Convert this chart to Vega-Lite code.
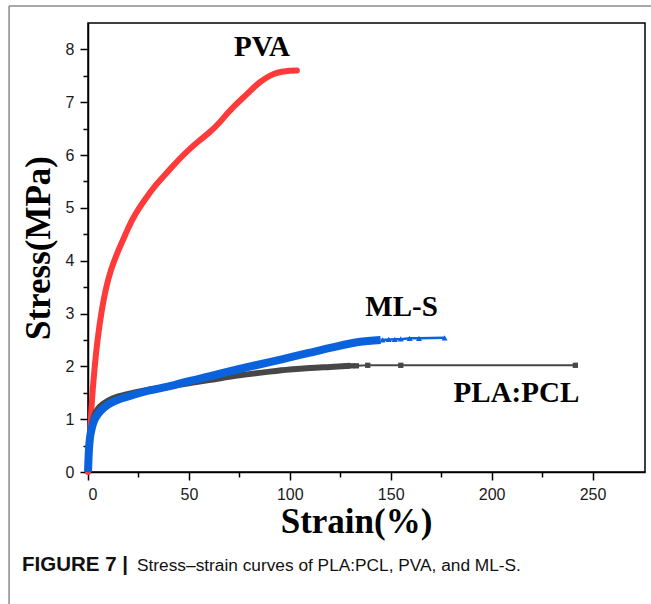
{
  "$schema": "https://vega.github.io/schema/vega-lite/v6.json",
  "width": 557,
  "height": 449,
  "autosize": {"type": "none"},
  "padding": {"left": 88, "top": 23, "right": 6, "bottom": 132},
  "background": "white",
  "datasets": {
    "curves": [
      {"series": "PVA", "strain": 0, "stress": 0},
      {"series": "PVA", "strain": 0.5, "stress": 0.35},
      {"series": "PVA", "strain": 1, "stress": 0.65},
      {"series": "PVA", "strain": 1.6, "stress": 1.2},
      {"series": "PVA", "strain": 3, "stress": 1.87},
      {"series": "PVA", "strain": 4.6, "stress": 2.5},
      {"series": "PVA", "strain": 7, "stress": 3.12},
      {"series": "PVA", "strain": 9, "stress": 3.5},
      {"series": "PVA", "strain": 11.2, "stress": 3.82},
      {"series": "PVA", "strain": 15, "stress": 4.2},
      {"series": "PVA", "strain": 18.6, "stress": 4.5},
      {"series": "PVA", "strain": 22, "stress": 4.8},
      {"series": "PVA", "strain": 28, "stress": 5.15},
      {"series": "PVA", "strain": 34, "stress": 5.46},
      {"series": "PVA", "strain": 40, "stress": 5.7},
      {"series": "PVA", "strain": 45, "stress": 5.92},
      {"series": "PVA", "strain": 50.5, "stress": 6.12},
      {"series": "PVA", "strain": 55, "stress": 6.27},
      {"series": "PVA", "strain": 60, "stress": 6.42},
      {"series": "PVA", "strain": 65, "stress": 6.6},
      {"series": "PVA", "strain": 69, "stress": 6.79},
      {"series": "PVA", "strain": 73, "stress": 6.95},
      {"series": "PVA", "strain": 77, "stress": 7.09},
      {"series": "PVA", "strain": 80, "stress": 7.2},
      {"series": "PVA", "strain": 84, "stress": 7.35},
      {"series": "PVA", "strain": 88, "stress": 7.46},
      {"series": "PVA", "strain": 92, "stress": 7.54},
      {"series": "PVA", "strain": 96, "stress": 7.58},
      {"series": "PVA", "strain": 100, "stress": 7.6},
      {"series": "PVA", "strain": 103.5, "stress": 7.6},
      {"series": "PLA:PCL", "strain": 0, "stress": 0},
      {"series": "PLA:PCL", "strain": 0.5, "stress": 0.35},
      {"series": "PLA:PCL", "strain": 1, "stress": 0.6},
      {"series": "PLA:PCL", "strain": 2, "stress": 0.9},
      {"series": "PLA:PCL", "strain": 3, "stress": 1.05},
      {"series": "PLA:PCL", "strain": 5, "stress": 1.2},
      {"series": "PLA:PCL", "strain": 7.5, "stress": 1.29},
      {"series": "PLA:PCL", "strain": 10, "stress": 1.35},
      {"series": "PLA:PCL", "strain": 15, "stress": 1.43},
      {"series": "PLA:PCL", "strain": 20, "stress": 1.48},
      {"series": "PLA:PCL", "strain": 30, "stress": 1.56},
      {"series": "PLA:PCL", "strain": 40, "stress": 1.62},
      {"series": "PLA:PCL", "strain": 50, "stress": 1.68},
      {"series": "PLA:PCL", "strain": 60, "stress": 1.74},
      {"series": "PLA:PCL", "strain": 75, "stress": 1.83},
      {"series": "PLA:PCL", "strain": 90, "stress": 1.9},
      {"series": "PLA:PCL", "strain": 100, "stress": 1.94},
      {"series": "PLA:PCL", "strain": 110, "stress": 1.97},
      {"series": "PLA:PCL", "strain": 120, "stress": 1.99},
      {"series": "PLA:PCL", "strain": 130, "stress": 2.01},
      {"series": "PLA:PCL", "strain": 133, "stress": 2.01},
      {"series": "PLA:PCL", "strain": 138.6, "stress": 2.02},
      {"series": "PLA:PCL", "strain": 155, "stress": 2.02},
      {"series": "PLA:PCL", "strain": 198, "stress": 2.02},
      {"series": "PLA:PCL", "strain": 241.5, "stress": 2.02},
      {"series": "ML-S", "strain": 0, "stress": 0},
      {"series": "ML-S", "strain": 0.5, "stress": 0.45},
      {"series": "ML-S", "strain": 1, "stress": 0.65},
      {"series": "ML-S", "strain": 2, "stress": 0.85},
      {"series": "ML-S", "strain": 3, "stress": 0.97},
      {"series": "ML-S", "strain": 5, "stress": 1.1},
      {"series": "ML-S", "strain": 8, "stress": 1.22},
      {"series": "ML-S", "strain": 12, "stress": 1.32},
      {"series": "ML-S", "strain": 20, "stress": 1.43},
      {"series": "ML-S", "strain": 27, "stress": 1.51},
      {"series": "ML-S", "strain": 40, "stress": 1.62},
      {"series": "ML-S", "strain": 50, "stress": 1.72},
      {"series": "ML-S", "strain": 60, "stress": 1.81},
      {"series": "ML-S", "strain": 75, "stress": 1.95},
      {"series": "ML-S", "strain": 90, "stress": 2.08},
      {"series": "ML-S", "strain": 100, "stress": 2.17},
      {"series": "ML-S", "strain": 110, "stress": 2.26},
      {"series": "ML-S", "strain": 120, "stress": 2.35},
      {"series": "ML-S", "strain": 134, "stress": 2.46},
      {"series": "ML-S", "strain": 145, "stress": 2.5},
      {"series": "ML-S", "strain": 150, "stress": 2.51},
      {"series": "ML-S", "strain": 156, "stress": 2.52},
      {"series": "ML-S", "strain": 159.4, "stress": 2.53},
      {"series": "ML-S", "strain": 164, "stress": 2.53},
      {"series": "ML-S", "strain": 176.7, "stress": 2.54}
    ],
    "markers": [
      {"series": "PLA:PCL", "strain": 128, "stress": 2.0},
      {"series": "PLA:PCL", "strain": 131, "stress": 2.01},
      {"series": "PLA:PCL", "strain": 133, "stress": 2.01},
      {"series": "PLA:PCL", "strain": 138.6, "stress": 2.02},
      {"series": "PLA:PCL", "strain": 155, "stress": 2.02},
      {"series": "PLA:PCL", "strain": 241.5, "stress": 2.02},
      {"series": "ML-S", "strain": 140, "stress": 2.48},
      {"series": "ML-S", "strain": 143, "stress": 2.49},
      {"series": "ML-S", "strain": 146, "stress": 2.5},
      {"series": "ML-S", "strain": 149, "stress": 2.51},
      {"series": "ML-S", "strain": 152, "stress": 2.51},
      {"series": "ML-S", "strain": 155, "stress": 2.52},
      {"series": "ML-S", "strain": 159.4, "stress": 2.53},
      {"series": "ML-S", "strain": 164, "stress": 2.53},
      {"series": "ML-S", "strain": 176.7, "stress": 2.54}
    ],
    "labels": [
      {"label": "PVA", "strain": 86.2, "stress": 8.04},
      {"label": "ML-S", "strain": 155.4, "stress": 3.13},
      {"label": "PLA:PCL", "strain": 212.3, "stress": 1.5}
    ],
    "caption": [
      {"part": "FIGURE 7 |", "bold": true, "strain": -32.7, "stress": -1.874},
      {"part": "Stress–strain curves of PLA:PCL, PVA, and ML-S.", "bold": false, "strain": 24.3, "stress": -1.874}
    ],
    "frame": [
      {"edge": "top", "strain": -39.1, "strain2": 290, "stress": 8.82, "stress2": 8.82},
      {"edge": "left", "strain": -39.1, "strain2": -39.1, "stress": 8.82, "stress2": -3}
    ]
  },
  "encoding": {
    "x": {
      "field": "strain",
      "type": "quantitative",
      "scale": {"domain": [0, 276], "nice": false, "zero": false},
      "axis": {
        "title": "Strain(%)",
        "values": [0, 25, 50, 75, 100, 125, 150, 175, 200, 225, 250],
        "labelExpr": "datum.value % 50 === 0 ? format(datum.value, 'd') : ''",
        "tickSize": {"condition": {"test": "datum.value % 50 !== 0", "value": 5}, "value": 8},
        "labelPadding": 6,
        "titleX": 268,
        "titleY": 60,
        "titleAlign": "center",
        "titleBaseline": "alphabetic"
      }
    },
    "y": {
      "field": "stress",
      "type": "quantitative",
      "scale": {"domain": [0, 8.5], "nice": false, "zero": false},
      "axis": {
        "title": "Stress(MPa)",
        "values": [0, 0.5, 1, 1.5, 2, 2.5, 3, 3.5, 4, 4.5, 5, 5.5, 6, 6.5, 7, 7.5, 8],
        "labelExpr": "datum.value % 1 === 0 ? format(datum.value, 'd') : ''",
        "tickSize": {"condition": {"test": "datum.value % 1 !== 0", "value": 5}, "value": 8},
        "labelPadding": 6,
        "titleAngle": -90,
        "titleX": -39,
        "titleY": 224.5,
        "titleAlign": "center",
        "titleBaseline": "alphabetic"
      }
    }
  },
  "layer": [
    {
      "data": {"name": "curves"},
      "transform": [{"filter": "datum.series === 'PVA'"}],
      "mark": {"type": "line", "color": "#ff3a3a", "strokeWidth": 6, "interpolate": "basis", "strokeCap": "round"}
    },
    {
      "data": {"name": "curves"},
      "transform": [{"filter": "datum.series === 'PLA:PCL' && datum.strain <= 131"}],
      "mark": {"type": "line", "color": "#474747", "strokeWidth": 6, "interpolate": "monotone"}
    },
    {
      "data": {"name": "curves"},
      "transform": [{"filter": "datum.series === 'PLA:PCL' && datum.strain >= 130"}],
      "mark": {"type": "line", "color": "#474747", "strokeWidth": 2}
    },
    {
      "data": {"name": "markers"},
      "transform": [{"filter": "datum.series === 'PLA:PCL'"}],
      "mark": {"type": "point", "shape": "square", "filled": true, "color": "#474747", "size": 28, "opacity": 1}
    },
    {
      "data": {"name": "curves"},
      "transform": [{"filter": "datum.series === 'ML-S' && datum.strain <= 146"}],
      "mark": {"type": "line", "color": "#0a62dc", "strokeWidth": 8, "interpolate": "monotone"}
    },
    {
      "data": {"name": "curves"},
      "transform": [{"filter": "datum.series === 'ML-S' && datum.strain >= 145"}],
      "mark": {"type": "line", "color": "#0a62dc", "strokeWidth": 2.5}
    },
    {
      "data": {"name": "markers"},
      "transform": [{"filter": "datum.series === 'ML-S'"}],
      "mark": {"type": "point", "shape": "triangle-up", "filled": true, "color": "#0a62dc", "size": 36, "opacity": 1}
    },
    {
      "data": {"name": "labels"},
      "mark": {"type": "text", "font": "Liberation Serif", "fontWeight": "bold", "fontSize": 29, "color": "black", "align": "center", "baseline": "middle"},
      "encoding": {"text": {"field": "label"}}
    },
    {
      "data": {"name": "caption"},
      "transform": [{"filter": "datum.bold"}],
      "mark": {"type": "text", "clip": false, "font": "Liberation Sans", "fontWeight": "bold", "fontSize": 20.5, "color": "#111", "align": "left", "baseline": "alphabetic"},
      "encoding": {"text": {"field": "part"}}
    },
    {
      "data": {"name": "caption"},
      "transform": [{"filter": "!datum.bold"}],
      "mark": {"type": "text", "clip": false, "font": "Liberation Sans", "fontSize": 17.3, "color": "#111", "align": "left", "baseline": "alphabetic"},
      "encoding": {"text": {"field": "part"}}
    },
    {
      "data": {"name": "frame"},
      "mark": {"type": "rule", "clip": false, "color": "#8a8a8a", "strokeWidth": 1.5},
      "encoding": {
        "x2": {"field": "strain2"},
        "y2": {"field": "stress2"}
      }
    }
  ],
  "config": {
    "view": {"stroke": "black", "strokeWidth": 1.5},
    "axis": {
      "grid": false,
      "domainColor": "black",
      "domainWidth": 1.5,
      "tickColor": "black",
      "tickWidth": 1.5,
      "labelFont": "Liberation Sans",
      "labelFontSize": 16,
      "labelColor": "#1a1a1a",
      "titleFont": "Liberation Serif",
      "titleFontWeight": "bold",
      "titleFontSize": 35,
      "titleColor": "black"
    }
  }
}
